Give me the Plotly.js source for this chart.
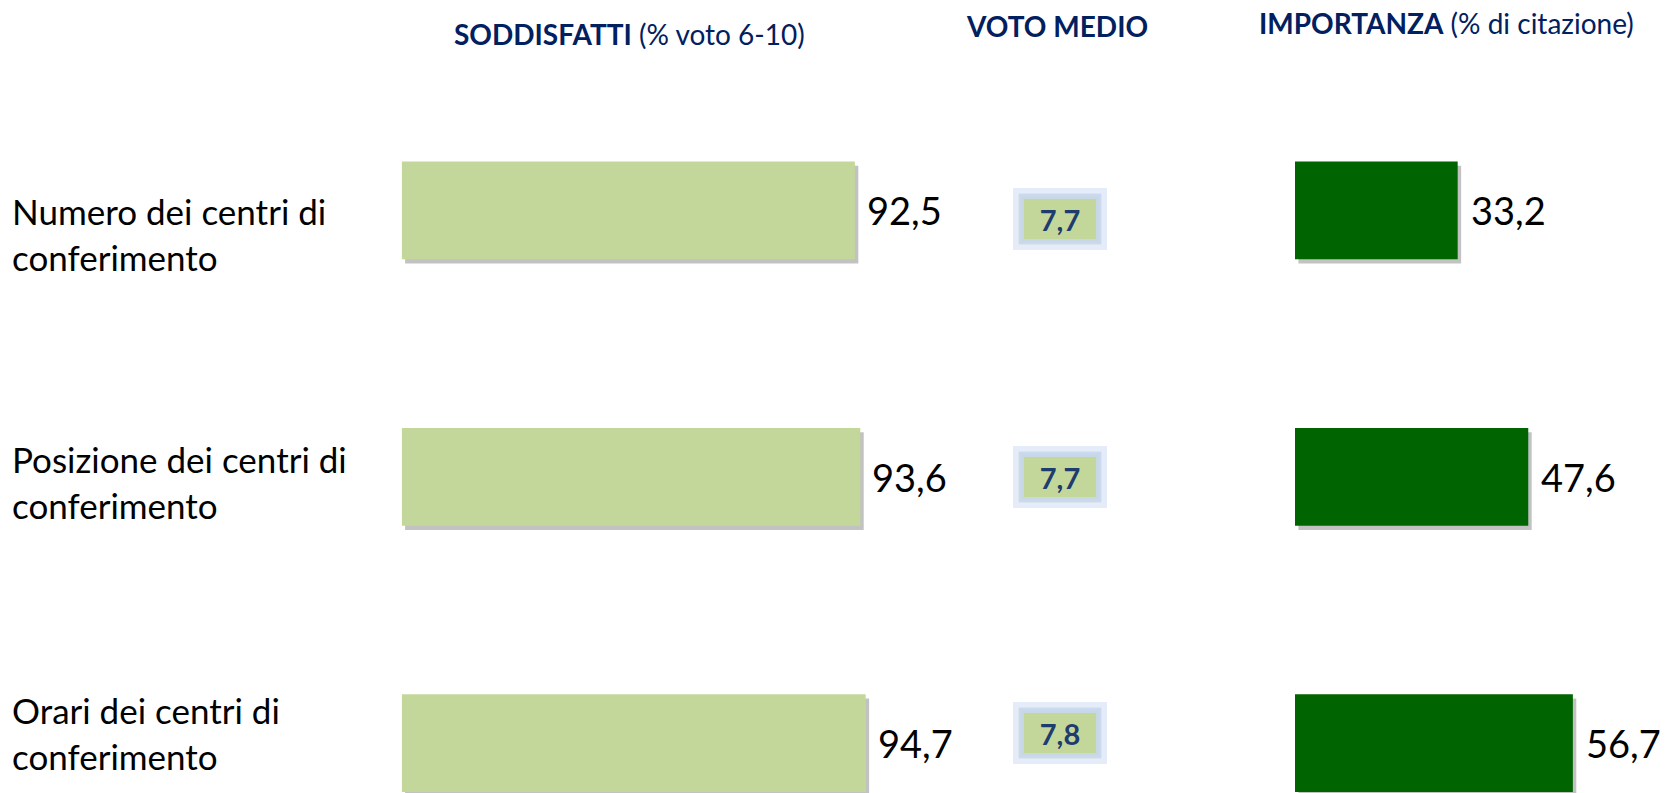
<!DOCTYPE html>
<html>
<head>
<meta charset="utf-8">
<script src="https://cdn.plot.ly/plotly-3.0.1.min.js"></script>
<style>html,body{margin:0;padding:0;background:#fff;}#chart{width:1666px;height:793px;}</style>
</head>
<body>
<div id="chart"></div>
<script>
// ---- data ----
const categories = ['Numero dei centri di conferimento', 'Posizione dei centri di conferimento', 'Orari dei centri di conferimento'];
const soddisfatti = [92.5, 93.6, 94.7];
const votoMedio = [7.7, 7.7, 7.8];
const importanza = [33.2, 47.6, 56.7];
const headers = ['<b>SODDISFATTI</b> (% voto 6-10)', '<b>VOTO MEDIO</b>', '<b>IMPORTANZA</b> (% di citazione)'];

// ---- style ----
const FONT = 'Lato, "Open Sans", sans-serif';
const lightGreen = '#c4d79b';
const darkGreen = '#006400';
const navy = '#002060';
const shadowCol = 'rgba(110,110,110,0.42)';
const labelShift = [-24, -5, 10];
const votoShift = [-9, 0, 10];

const yTop = -0.790, yBot = 2.187, barW = 0.367;
const dyShadow = 0.016;   // ~4px
const dxShadow = 0.7;     // ~3px

const axHidden = {showgrid:false, zeroline:false, showticklabels:false, ticks:'', showline:false, fixedrange:true};

const traces = [
  // shadows (base axes)
  {type:'bar', orientation:'h', y:categories, x:soddisfatti, width:barW, xaxis:'x', yaxis:'y',
   marker:{color:shadowCol}, hoverinfo:'skip', showlegend:false},
  {type:'bar', orientation:'h', y:categories, x:importanza, width:barW, xaxis:'x2', yaxis:'y',
   marker:{color:shadowCol}, hoverinfo:'skip', showlegend:false},
  // main bars (overlay axes)
  {type:'bar', orientation:'h', y:categories, x:soddisfatti, width:barW, xaxis:'x3', yaxis:'y2',
   marker:{color:lightGreen}, showlegend:false},
  {type:'bar', orientation:'h', y:categories, x:importanza, width:barW, xaxis:'x4', yaxis:'y2',
   marker:{color:darkGreen}, showlegend:false}
];

const d1 = [0.2411, 0.5352], d2 = [0.7773, 0.9538];
const r1 = [0, 100], r2 = [0, 60];
const fmt = v => v.toFixed(1).replace('.', ',');

const annotations = [];
// headers
const headerX = [629/1666, 1057/1666, 1446/1666];
const headerY = [34, 26, 23];
headers.forEach((h, i) => annotations.push({
  xref:'paper', yref:'paper', x:headerX[i], y:1 - headerY[i]/793, xanchor:'center', yanchor:'middle',
  text:h, showarrow:false, font:{family:FONT, size:28, color:navy}
}));
// category labels
categories.forEach((c, i) => annotations.push({
  xref:'paper', yref:'y2', x:10/1666, y:c, xanchor:'left', yanchor:'middle', align:'left',
  yshift:labelShift[i], text:c.replace(' conferimento', '<br>conferimento'), showarrow:false,
  font:{family:FONT, size:35, color:'#000'}
}));
// value labels
soddisfatti.forEach((v, i) => annotations.push({
  xref:'x3', yref:'y2', x:v, y:categories[i], xanchor:'left', yanchor:'middle', xshift:10,
  text:fmt(v), showarrow:false, font:{family:FONT, size:38, color:'#000'}
}));
importanza.forEach((v, i) => annotations.push({
  xref:'x4', yref:'y2', x:v, y:categories[i], xanchor:'left', yanchor:'middle', xshift:11,
  text:fmt(v), showarrow:false, font:{family:FONT, size:38, color:'#000'}
}));
// voto medio boxes (outer glow + inner box)
votoMedio.forEach((v, i) => {
  annotations.push({
    xref:'paper', yref:'y2', x:1060/1666, y:categories[i], xanchor:'center', yanchor:'middle',
    yshift:votoShift[i], text:' ', showarrow:false, width:72, height:40, borderpad:0,
    bgcolor:lightGreen, bordercolor:'rgba(218,228,247,0.7)', borderwidth:11,
    font:{family:FONT, size:29, color:'#1f3c6e'}
  });
  annotations.push({
    xref:'paper', yref:'y2', x:1060/1666, y:categories[i], xanchor:'center', yanchor:'middle',
    yshift:votoShift[i], text:'<b>' + fmt(v) + '</b>', showarrow:false, width:72, height:40, borderpad:0,
    bgcolor:lightGreen, bordercolor:'rgba(200,215,241,0.85)', borderwidth:5,
    font:{family:FONT, size:29, color:'#1f3c6e'}
  });
});

const layout = {
  width:1666, height:793, margin:{l:0, r:0, t:0, b:0},
  paper_bgcolor:'#fff', plot_bgcolor:'rgba(0,0,0,0)',
  separators:',.', barmode:'overlay', showlegend:false,
  xaxis: Object.assign({domain:d1, range:[r1[0]-dxShadow, r1[1]-dxShadow]}, axHidden),
  xaxis2: Object.assign({domain:d2, range:[r2[0]-dxShadow, r2[1]-dxShadow]}, axHidden),
  xaxis3: Object.assign({domain:d1, range:r1, overlaying:'x'}, axHidden),
  xaxis4: Object.assign({domain:d2, range:r2, overlaying:'x2'}, axHidden),
  yaxis: Object.assign({domain:[0,1], type:'category', categoryorder:'array', categoryarray:categories,
    range:[yBot - dyShadow, yTop - dyShadow]}, axHidden),
  yaxis2: Object.assign({domain:[0,1], type:'category', categoryorder:'array', categoryarray:categories,
    range:[yBot, yTop], overlaying:'y'}, axHidden),
  annotations: annotations
};

Plotly.newPlot('chart', traces, layout, {staticPlot:true, displayModeBar:false});
</script>
</body>
</html>
